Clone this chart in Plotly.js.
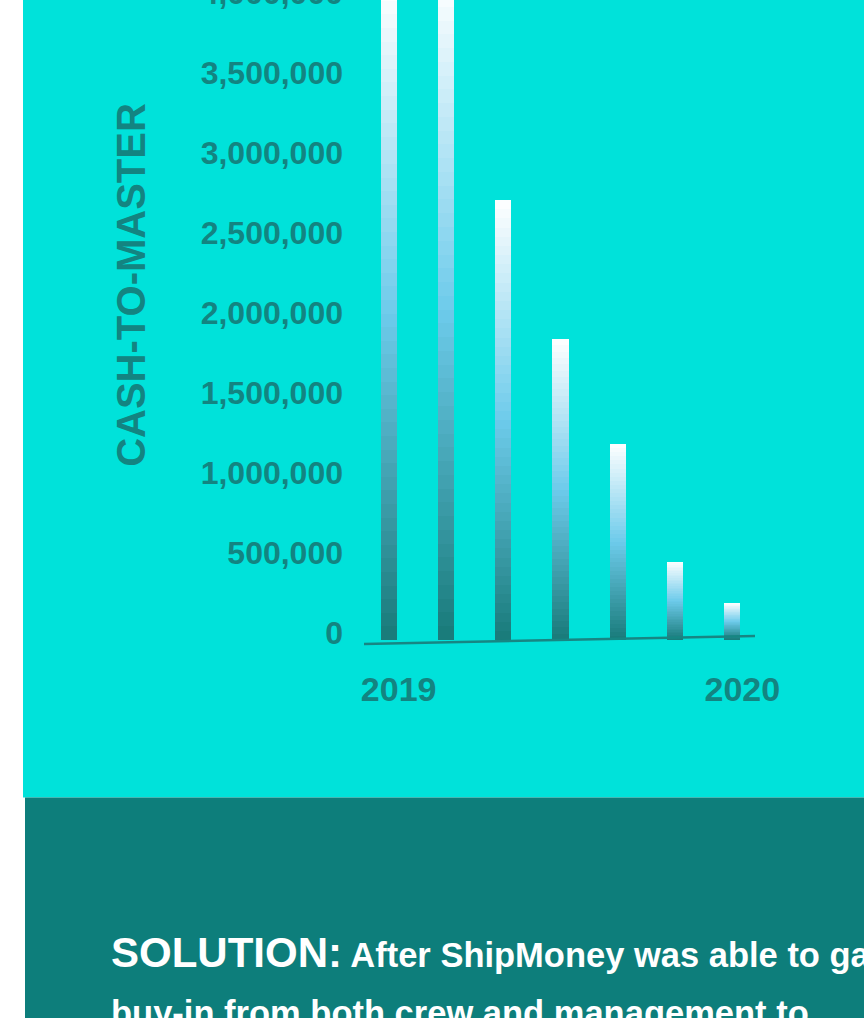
<!DOCTYPE html>
<html>
<head>
<meta charset="utf-8">
<script src="https://cdn.plot.ly/plotly-3.0.1.min.js"></script>
<style>
html,body{margin:0;padding:0;overflow:hidden;background:#ffffff;width:864px;height:1018px;}
#chart{position:absolute;left:0;top:-90px;width:864px;height:1108px;}
</style>
</head>
<body>
<div id="chart"></div>
<script>
// ---- data ----
const periods = ['P1', 'P2', 'P3', 'P4', 'P5', 'P6', 'P7'];
const cashToMaster = [4080000, 4130000, 2750000, 1880000, 1225000, 490000, 230000];
const yTickValues = [0, 500000, 1000000, 1500000, 2000000, 2500000, 3000000, 3500000, 4000000];
const xTickPeriods = ['P1', 'P7'];
const xTickLabels = ['2019', '2020'];
const yAxisTitle = 'CASH-TO-MASTER';
const solutionLead = 'SOLUTION:';
const solutionLine1 = 'After ShipMoney was able to gain';
const solutionLine2 = 'buy-in from both crew and management to';

// ---- styling ----
const CYAN = '#00e2da';
const DARK = '#0d7e7b';
const LABEL = '#138481';
const FONT = 'Arial, "Liberation Sans", Helvetica, sans-serif';
const gradStops = [[0, [24, 122, 121]], [0.5, [109, 203, 235]], [1, [255, 255, 255]]];
function gradColor(t) {
  for (let i = 1; i < gradStops.length; i++) {
    if (t <= gradStops[i][0]) {
      const a = gradStops[i - 1], b = gradStops[i];
      const f = (t - a[0]) / (b[0] - a[0]);
      const c = a[1].map((v, k) => Math.round(v + (b[1][k] - v) * f));
      return 'rgb(' + c.join(',') + ')';
    }
  }
  return 'rgb(255,255,255)';
}

// page-pixel to paper helpers (plot area: x 360..761, page y -90..660)
const PL = 360, PR = 761, PT = -90, PB = 660;
const paperX = px => (px - PL) / (PR - PL);
const paperY = py => (PB - py) / (PB - PT);

// gradient bars: overlaid layers, each a fraction of the bar's own height
const LAYERS = 48;
const traces = [];
for (let k = LAYERS; k >= 1; k--) {
  traces.push({
    type: 'bar',
    x: periods,
    y: cashToMaster.map(v => v * k / LAYERS),
    width: 0.28,
    marker: {color: gradColor((k - 0.5) / LAYERS), line: {width: 0}},
    hoverinfo: 'skip',
    showlegend: false
  });
}

const layout = {
  width: 864,
  height: 1108,
  margin: {l: PL, r: 864 - PR, t: 0, b: 1108 - (PB - PT)},
  paper_bgcolor: '#ffffff',
  plot_bgcolor: 'rgba(0,0,0,0)',
  barmode: 'overlay',
  bargap: 0,
  font: {family: FONT, color: LABEL, weight: 'bold'},
  xaxis: {
    type: 'category',
    range: [-0.5, 6.5],
    tickvals: xTickPeriods,
    ticktext: xTickLabels,
    ticks: '',
    showgrid: false,
    zeroline: false,
    showline: false,
    ticklabelshift: 10,
    ticklabelstandoff: 6,
    tickfont: {family: FONT, size: 34, color: LABEL, weight: 'bold'},
    fixedrange: true
  },
  yaxis: {
    range: [-125000, 4562500],
    tickvals: yTickValues,
    tickformat: ',d',
    ticks: '',
    showgrid: false,
    zeroline: false,
    showline: false,
    ticklabelshift: -7,
    ticklabelstandoff: 16,
    tickfont: {family: FONT, size: 32, color: LABEL, weight: 'bold'},
    title: {text: yAxisTitle, standoff: 42, font: {family: FONT, size: 40, color: LABEL, weight: 'bold'}},
    fixedrange: true
  },
  shapes: [
    {type: 'rect', xref: 'paper', yref: 'paper', layer: 'below',
     x0: paperX(23), x1: paperX(870), y0: paperY(797.5), y1: paperY(-100),
     fillcolor: CYAN, line: {width: 0}},
    {type: 'rect', xref: 'paper', yref: 'paper', layer: 'below',
     x0: paperX(25), x1: paperX(870), y0: paperY(1030), y1: paperY(797.5),
     fillcolor: DARK, line: {width: 0}},
    {type: 'line', xref: 'paper', yref: 'paper', layer: 'above',
     x0: paperX(364), y0: paperY(644), x1: paperX(755), y1: paperY(636),
     line: {color: '#178683', width: 2.5}}
  ],
  annotations: [
    {xref: 'paper', yref: 'paper', x: paperX(110), y: paperY(976.5), xanchor: 'left', yanchor: 'bottom',
     showarrow: false, align: 'left', borderpad: 0,
     font: {family: FONT, size: 34.5, color: '#ffffff', weight: 'bold'},
     text: '<span style="font-size:42px">' + solutionLead + '</span> ' + solutionLine1},
    {xref: 'paper', yref: 'paper', x: paperX(110), y: paperY(993), xanchor: 'left', yanchor: 'top',
     showarrow: false, align: 'left', borderpad: 0,
     font: {family: FONT, size: 34.5, color: '#ffffff', weight: 'bold'},
     text: solutionLine2}
  ]
};

Plotly.newPlot('chart', traces, layout, {displayModeBar: false, staticPlot: true});
</script>
</body>
</html>
